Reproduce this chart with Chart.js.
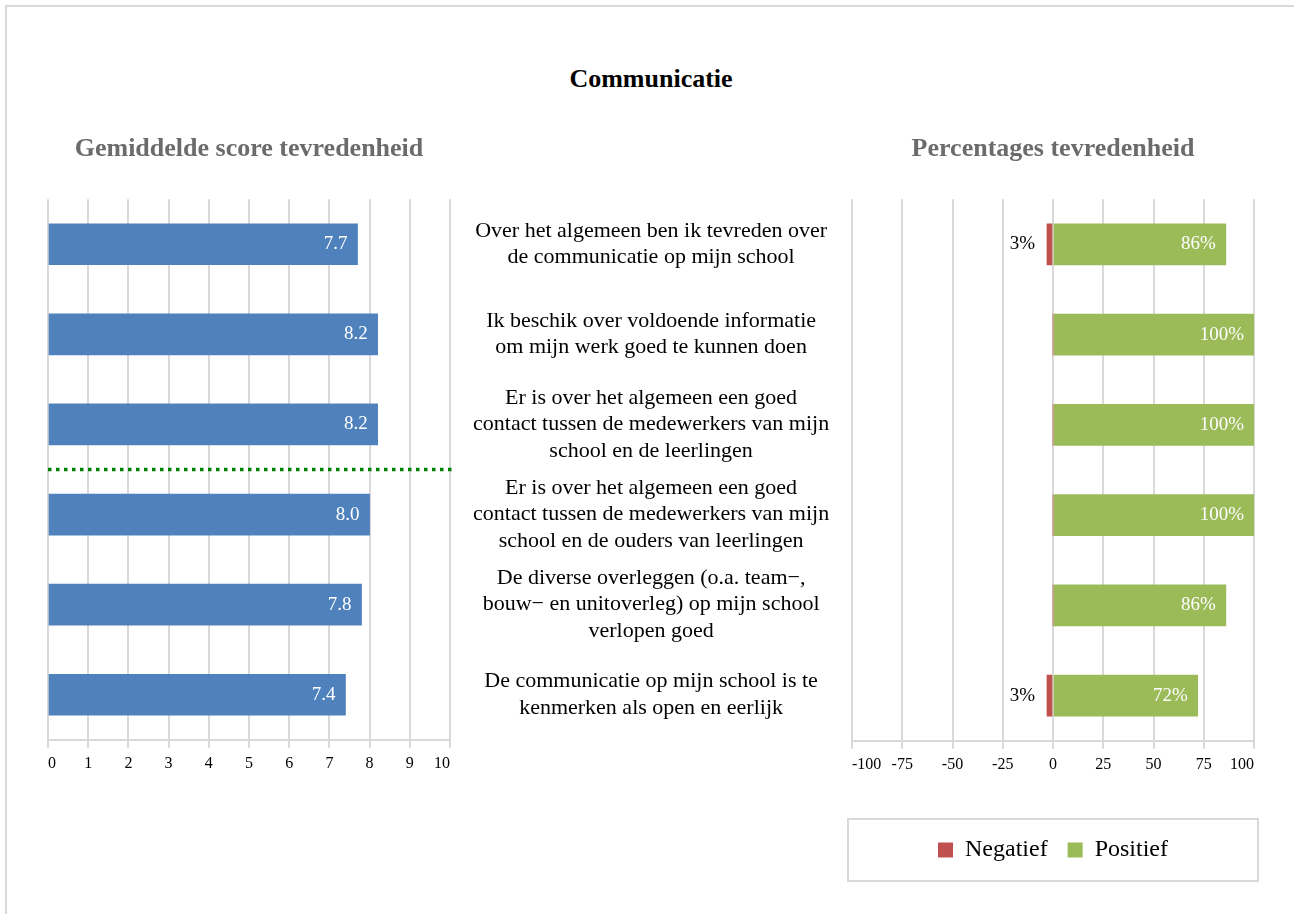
<!DOCTYPE html>
<html lang="nl">
<head>
<meta charset="utf-8">
<title>Communicatie</title>
<script src="https://cdn.jsdelivr.net/npm/chart.js@4.4.1/dist/chart.umd.min.js"></script>
<style>
  html, body { margin: 0; padding: 0; background: #fff; overflow: hidden; }
  #page { position: relative; width: 1294px; height: 914px; }
  #kader { position: absolute; left: 5px; top: 5px; width: 1400px; height: 1000px; border: 2px solid #d9d9d9; }
  #titel { position: absolute; left: 0; width: 1302px; top: 64px; text-align: center;
           font: bold 26px 'Liberation Serif', serif; line-height: 30px; color: #000; }
  #scoreChart { position: absolute; left: 0; top: 0; }
  #procentChart { position: absolute; left: 800px; top: 0; }
</style>
</head>
<body>
<div id="page">
  <div id="kader"></div>
  <div id="titel">Communicatie</div>
  <canvas id="scoreChart" width="850" height="800"></canvas>
  <canvas id="procentChart" width="480" height="900"></canvas>
</div>
<script>
const stellingen = [
  ['Over het algemeen ben ik tevreden over', 'de communicatie op mijn school'],
  ['Ik beschik over voldoende informatie', 'om mijn werk goed te kunnen doen'],
  ['Er is over het algemeen een goed', 'contact tussen de medewerkers van mijn', 'school en de leerlingen'],
  ['Er is over het algemeen een goed', 'contact tussen de medewerkers van mijn', 'school en de ouders van leerlingen'],
  ['De diverse overleggen (o.a. team\u2212,', 'bouw\u2212 en unitoverleg) op mijn school', 'verlopen goed'],
  ['De communicatie op mijn school is te', 'kenmerken als open en eerlijk']
];
const gemiddelde = [7.7, 8.2, 8.2, 8.0, 7.8, 7.4];
const negatief = [3, 0, 0, 0, 0, 3];
const positief = [86, 100, 100, 100, 86, 72];
const scoreTicks = [0, 10, 1];          // min, max, stap
const procentTicks = [-100, 100, 25];
const scheidingNa = 3;                  // groene stippellijn na de derde stelling

Chart.defaults.font.family = "'Liberation Serif', 'Times New Roman', serif";
Chart.defaults.color = '#000';
Chart.defaults.animation = false;

const rasterKleur = '#d9d9d9';

const titelOpties = (tekst) => ({
  display: true,
  text: tekst,
  fullSize: false,
  color: '#6b6b6b',
  font: { size: 26, weight: 'bold' },
  padding: { top: 134, bottom: 34 }
});

const xAs = (grens) => ({
  min: grens[0], max: grens[1],
  ticks: { stepSize: grens[2], padding: 6, align: 'inner', font: { size: 16 } },
  grid: { color: rasterKleur, lineWidth: 2, tickLength: 8, tickColor: rasterKleur },
  border: { color: rasterKleur, width: 2 }
});

// waarden bij de balken: wit binnen het eind, negatieve zwart ervoor
const balkLabels = {
  id: 'balkLabels',
  afterDatasetsDraw(chart) {
    const ctx = chart.ctx;
    ctx.save();
    ctx.font = "19px 'Liberation Serif'";
    ctx.textBaseline = 'middle';
    ctx.textAlign = 'right';
    chart.data.datasets.forEach((ds, i) => {
      const meta = chart.getDatasetMeta(i);
      meta.data.forEach((bar, j) => {
        const v = ds.data[j];
        if (!v) return;
        if (v > 0) {
          ctx.fillStyle = '#fff';
          ctx.fillText(ds.labelFmt(v), bar.x - 10, bar.y);
        } else {
          ctx.fillStyle = '#000';
          ctx.fillText(ds.labelFmt(v), Math.min(bar.x, bar.base) - 12, bar.y);
        }
      });
    });
    ctx.restore();
  }
};

const stippellijn = {
  id: 'stippellijn',
  afterDatasetsDraw(chart) {
    const { ctx, chartArea, scales } = chart;
    const y = scales.y.getPixelForValue(scheidingNa - 0.5);
    ctx.save();
    ctx.strokeStyle = '#008000';
    ctx.lineWidth = 3.5;
    ctx.setLineDash([3.5, 4.5]);
    ctx.beginPath();
    ctx.moveTo(chartArea.left, y);
    ctx.lineTo(chartArea.right + 2, y);
    ctx.stroke();
    ctx.restore();
  }
};

const legendaKader = {
  id: 'legendaKader',
  afterDraw(chart) {
    const { ctx, chartArea, legend } = chart;
    const box = legend.legendHitBoxes[0];
    const midden = box.top + box.height / 2;
    ctx.save();
    ctx.strokeStyle = rasterKleur;
    ctx.lineWidth = 2;
    ctx.strokeRect(chartArea.left - 4, midden - 31, chartArea.right - chartArea.left + 8, 62);
    ctx.restore();
  }
};

new Chart(document.getElementById('scoreChart'), {
  type: 'bar',
  data: {
    labels: stellingen,
    datasets: [{
      data: gemiddelde,
      backgroundColor: '#4f81bd',
      barThickness: 41,
      labelFmt: v => v.toFixed(1)
    }]
  },
  options: {
    indexAxis: 'y',
    responsive: false,
    layout: { padding: { left: 48, right: 0, top: 0, bottom: 21 } },
    plugins: {
      legend: { display: false },
      tooltip: { enabled: false },
      title: titelOpties('Gemiddelde score tevredenheid')
    },
    scales: {
      x: xAs(scoreTicks),
      y: {
        position: 'right',
        grid: { display: false },
        border: { display: false },
        ticks: { crossAlign: 'center', padding: 15, autoSkip: false, font: { size: 22, lineHeight: 1.2 } },
        afterFit(scale) { scale.width = 400; }
      }
    }
  },
  plugins: [balkLabels, stippellijn]
});

new Chart(document.getElementById('procentChart'), {
  type: 'bar',
  data: {
    labels: stellingen,
    datasets: [{
      label: 'Negatief',
      data: negatief.map(v => -v),
      backgroundColor: '#c0504d',
      barThickness: 41,
      labelFmt: v => Math.abs(v) + '%'
    }, {
      label: 'Positief',
      data: positief,
      backgroundColor: '#9bbb59',
      barThickness: 41,
      labelFmt: v => v + '%'
    }]
  },
  options: {
    indexAxis: 'y',
    responsive: false,
    layout: { padding: { left: 52, right: 26, top: 0, bottom: 28 } },
    plugins: {
      tooltip: { enabled: false },
      title: titelOpties('Percentages tevredenheid'),
      legend: {
        position: 'bottom',
        title: { display: true, text: ' ', font: { size: 10 }, padding: 13 },
        labels: { boxWidth: 15, boxHeight: 15, padding: 20, color: '#000', font: { size: 24 } }
      }
    },
    scales: {
      x: Object.assign(xAs(procentTicks), { stacked: true }),
      y: { stacked: true, display: false }
    }
  },
  plugins: [balkLabels, legendaKader]
});
</script>
</body>
</html>
